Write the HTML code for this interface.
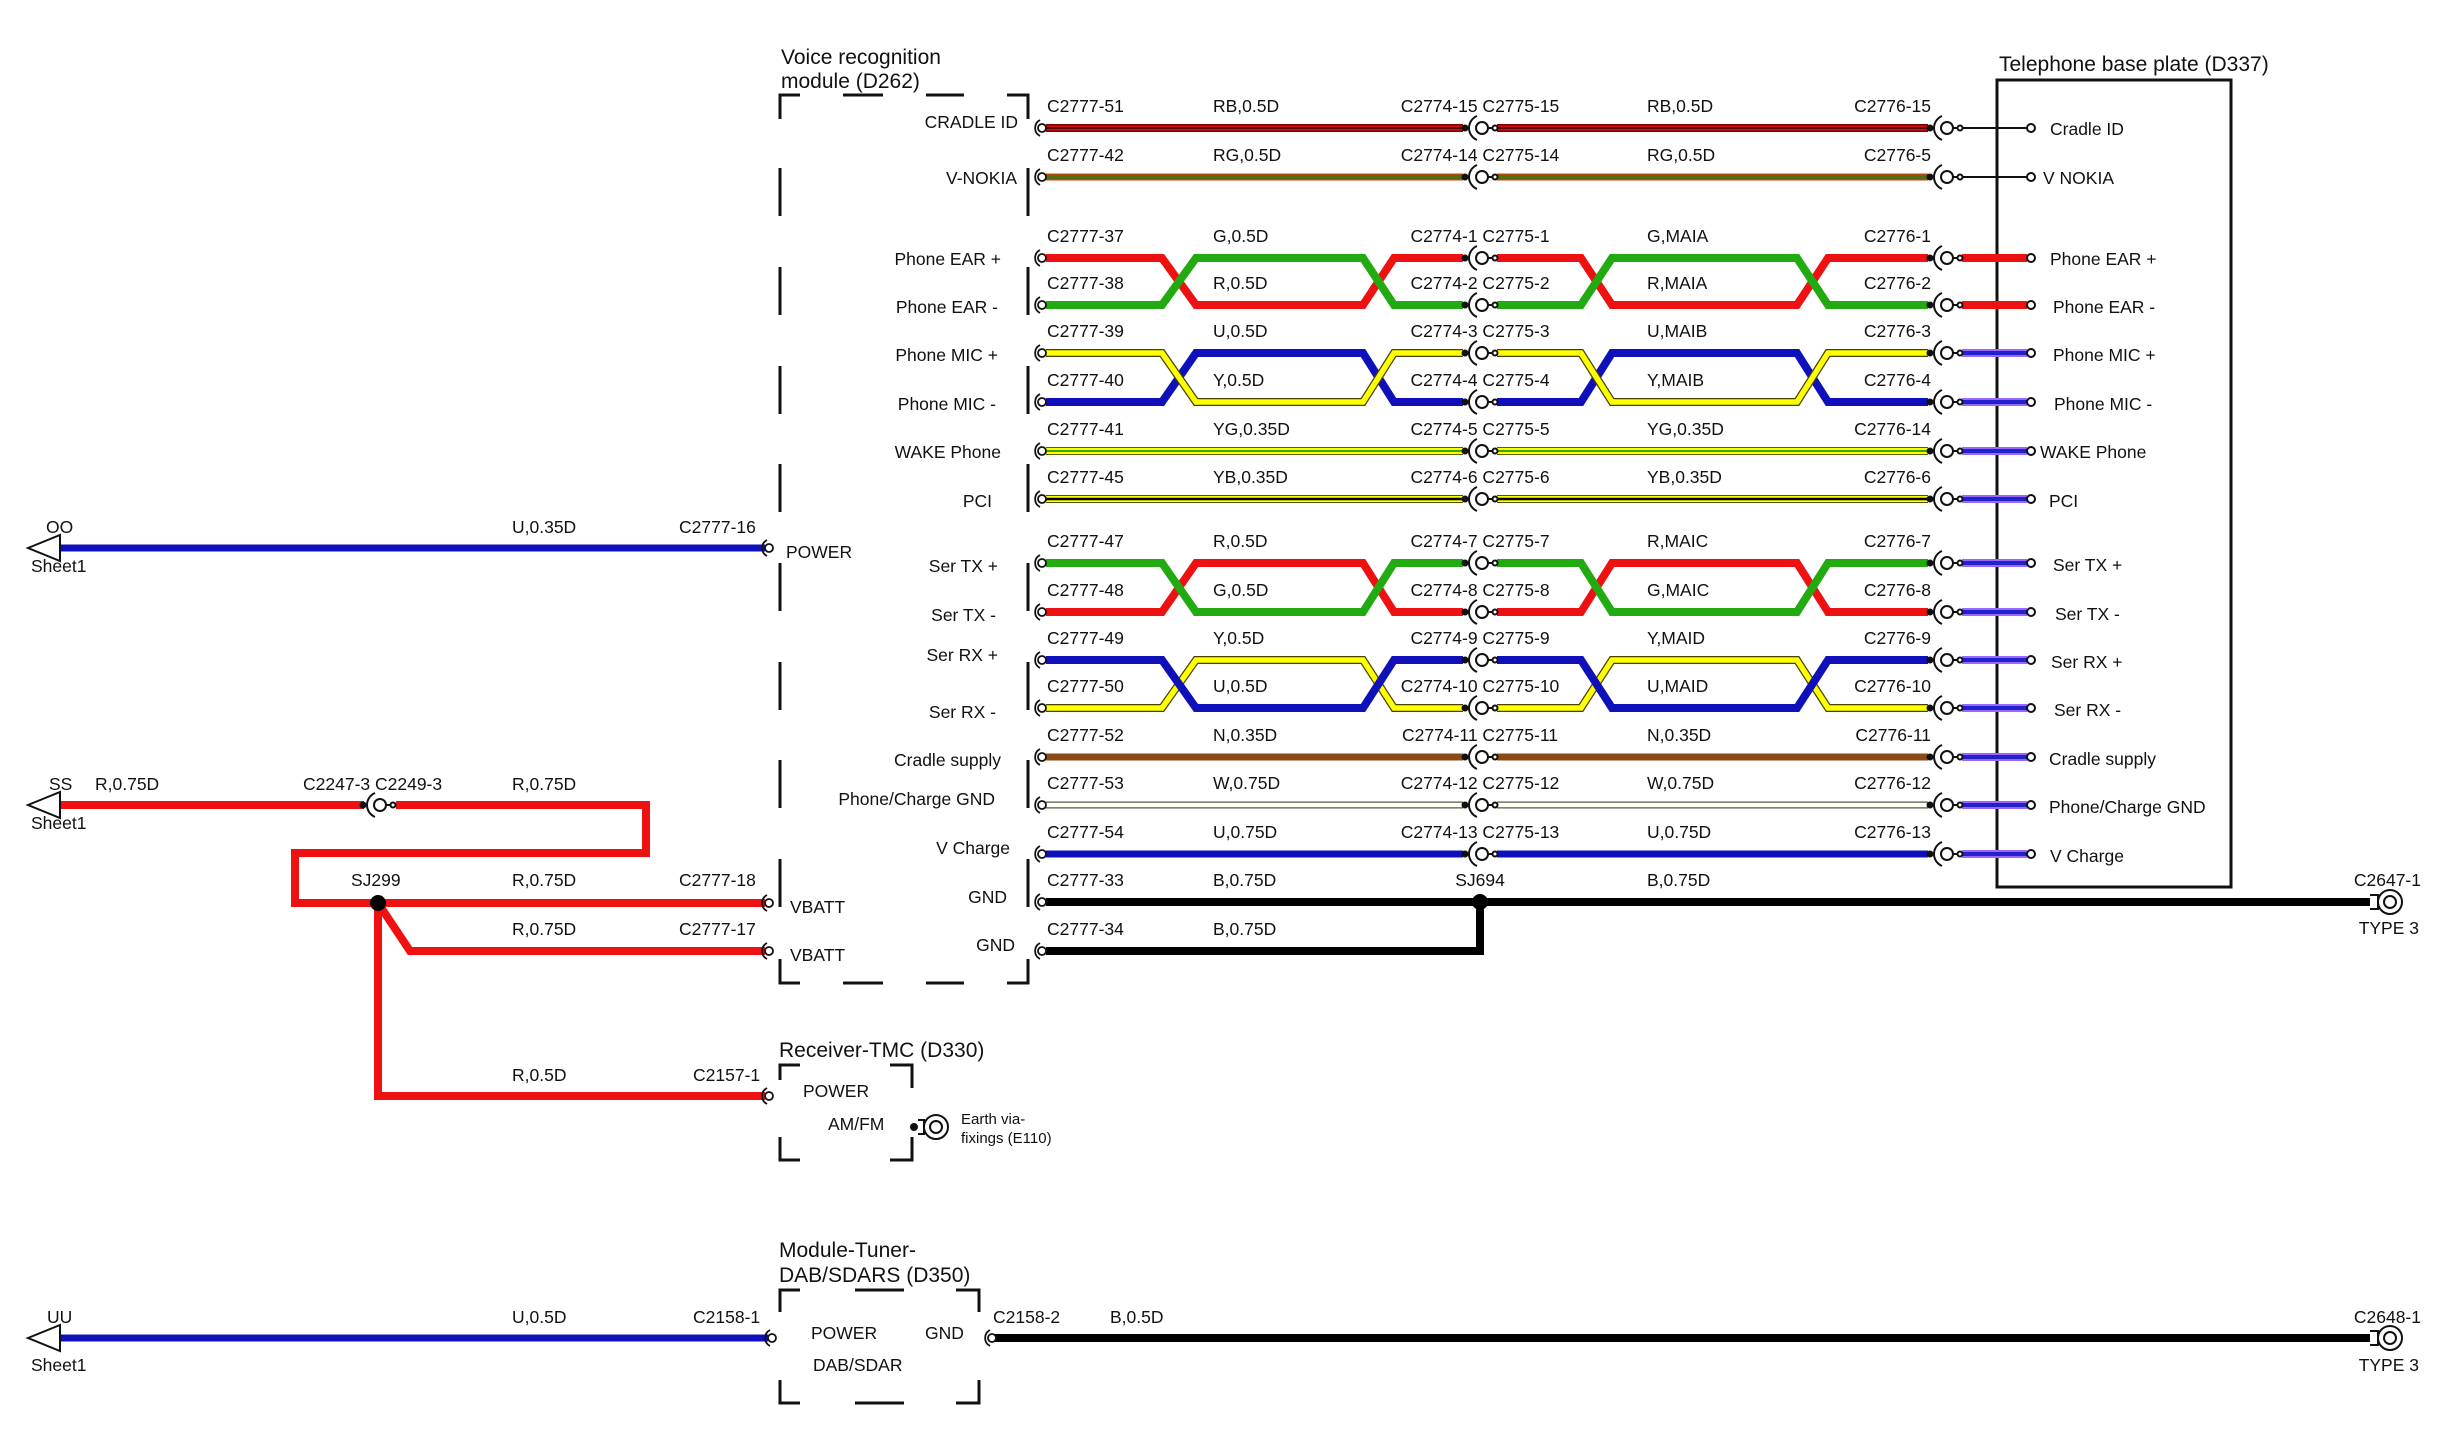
<!DOCTYPE html>
<html><head><meta charset="utf-8"><style>
html,body{margin:0;padding:0;background:#fff}
svg{display:block}
text{font-family:"Liberation Sans",Arial,sans-serif;font-size:17.5px;fill:#111}
.t{font-size:21px}
.s{font-size:15px}
.e{text-anchor:end}
.m{text-anchor:middle}
</style></head><body>
<svg width="2460" height="1444" viewBox="0 0 2460 1444" xmlns="http://www.w3.org/2000/svg">
<defs>
<g id="conn" fill="none" stroke="#111" stroke-width="2">
<circle cx="-15" cy="0" r="2.5" fill="#111"/>
<path d="M-3,-12 A13 13 0 0 0 -3,12"/>
<circle cx="2" cy="0" r="6"/>
<line x1="8" y1="0" x2="13" y2="0"/>
<circle cx="15" cy="0" r="2.5" fill="#fff"/>
</g>
<g id="pin" fill="none" stroke="#111" stroke-width="1.8">
<circle cx="2" cy="0" r="4" fill="#fff"/>
<path d="M0,-8 A9 9 0 0 0 0,8"/>
</g>
<g id="earth" fill="none" stroke="#111" stroke-width="2">
<circle cx="0" cy="0" r="3" fill="#111"/>
<path d="M4,-7 H10 V7 H4"/>
<circle cx="22" cy="0" r="12"/>
<circle cx="22" cy="0" r="6"/>
</g>
</defs>

<text x="781" y="64" class="t">Voice recognition</text>
<text x="781" y="88" class="t">module (D262)</text>
<g stroke="#111" stroke-width="3" fill="none">
<path d="M780,119 V95 H800 M843,95 H883 M926,95 H964 M1007,95 H1028 V119"/>
<path d="M780,959 V983 H800 M843,983 H883 M926,983 H964 M1007,983 H1028 V959"/>
<path d="M780,168V216M780,267V315M780,366V414M780,464V512M780,563V611M780,662V710M780,760V808M780,859V907"/>
<path d="M1028,168V216M1028,267V315M1028,366V414M1028,464V512M1028,563V611M1028,662V710M1028,760V808M1028,859V907"/>
</g>

<text x="1999" y="71" class="t">Telephone base plate (D337)</text>
<rect x="1997" y="80" width="234" height="807" fill="none" stroke="#111" stroke-width="3"/>

<g fill="none" stroke-linecap="butt">
<path d="M1046,128H1463M1497,128H1928" stroke="#7a0000" stroke-width="8"/>
<path d="M1046,128H1463M1497,128H1928" stroke="#d01010" stroke-width="5"/>
<path d="M1046,128H1463M1497,128H1928" stroke="#300" stroke-width="1.5"/>
<path d="M1046,177H1463M1497,177H1928" stroke="#d04010" stroke-width="7"/>
<path d="M1046,177H1463M1497,177H1928" stroke="#5a6a10" stroke-width="4.5"/>
<path d="M1046,451H1463M1497,451H1928" stroke="#556600" stroke-width="8"/>
<path d="M1046,451H1463M1497,451H1928" stroke="#ffff00" stroke-width="6"/>
<path d="M1046,451H1463M1497,451H1928" stroke="#33aa00" stroke-width="2"/>
<path d="M1046,499H1463M1497,499H1928" stroke="#555500" stroke-width="8"/>
<path d="M1046,499H1463M1497,499H1928" stroke="#ffff00" stroke-width="6"/>
<path d="M1046,499H1463M1497,499H1928" stroke="#000" stroke-width="2.5"/>
<path d="M1046,757H1463M1497,757H1928" stroke="#8a4a14" stroke-width="7"/>
<path d="M1046,805H1463M1497,805H1928" stroke="#555" stroke-width="7"/>
<path d="M1046,805H1463M1497,805H1928" stroke="#fffff2" stroke-width="4.5"/>
<path d="M1046,854H1463M1497,854H1928" stroke="#1010bb" stroke-width="7"/>
<path d="M1046,902H2370" stroke="#000" stroke-width="8"/>
<path d="M1046,951H1480V902" stroke="#000" stroke-width="8"/>
</g>
<circle cx="1480" cy="902" r="8" fill="#000"/>

<g fill="none" stroke-linejoin="miter">
<path d="M1046,258H1162L1196,305H1363L1394,258H1463M1497,258H1581L1612,305H1797L1828,258H1928" stroke="#ee1111" stroke-width="8"/>
<path d="M1046,305H1162L1196,258H1363L1394,305H1463M1497,305H1581L1612,258H1797L1828,305H1928" stroke="#22aa11" stroke-width="8"/>
<path d="M1046,402H1162L1196,353H1363L1394,402H1463M1497,402H1581L1612,353H1797L1828,402H1928" stroke="#1010bb" stroke-width="8"/>
<path d="M1046,353H1162L1196,402H1363L1394,353H1463M1497,353H1581L1612,402H1797L1828,353H1928" stroke="#444400" stroke-width="8"/>
<path d="M1046,353H1162L1196,402H1363L1394,353H1463M1497,353H1581L1612,402H1797L1828,353H1928" stroke="#ffff00" stroke-width="5.5"/>
<path d="M1046,612H1162L1196,563H1363L1394,612H1463M1497,612H1581L1612,563H1797L1828,612H1928" stroke="#ee1111" stroke-width="8"/>
<path d="M1046,563H1162L1196,612H1363L1394,563H1463M1497,563H1581L1612,612H1797L1828,563H1928" stroke="#22aa11" stroke-width="8"/>
<path d="M1046,708H1162L1196,660H1363L1394,708H1463M1497,708H1581L1612,660H1797L1828,708H1928" stroke="#444400" stroke-width="8"/>
<path d="M1046,708H1162L1196,660H1363L1394,708H1463M1497,708H1581L1612,660H1797L1828,708H1928" stroke="#ffff00" stroke-width="5.5"/>
<path d="M1046,660H1162L1196,708H1363L1394,660H1463M1497,660H1581L1612,708H1797L1828,660H1928" stroke="#1010bb" stroke-width="8"/>
</g>

<g fill="none">
<path d="M1962,128H2027M1962,177H2027" stroke="#111" stroke-width="2"/>
<path d="M1962,258H2027M1962,305H2027" stroke="#ee1111" stroke-width="8"/>
<path d="M1962,353H2027M1962,402H2027M1962,451H2027M1962,499H2027M1962,563H2027M1962,612H2027M1962,660H2027M1962,708H2027M1962,757H2027M1962,805H2027M1962,854H2027" stroke="#9966ff" stroke-width="8"/>
<path d="M1962,353H2027M1962,402H2027M1962,451H2027M1962,499H2027M1962,563H2027M1962,612H2027M1962,660H2027M1962,708H2027M1962,757H2027M1962,805H2027M1962,854H2027" stroke="#2222cc" stroke-width="4"/>
</g>
<g fill="#fff" stroke="#111" stroke-width="2">
<circle cx="2031" cy="128" r="4"/><circle cx="2031" cy="177" r="4"/><circle cx="2031" cy="258" r="4"/><circle cx="2031" cy="305" r="4"/>
<circle cx="2031" cy="353" r="4"/><circle cx="2031" cy="402" r="4"/><circle cx="2031" cy="451" r="4"/><circle cx="2031" cy="499" r="4"/>
<circle cx="2031" cy="563" r="4"/><circle cx="2031" cy="612" r="4"/><circle cx="2031" cy="660" r="4"/><circle cx="2031" cy="708" r="4"/>
<circle cx="2031" cy="757" r="4"/><circle cx="2031" cy="805" r="4"/><circle cx="2031" cy="854" r="4"/>
</g>

<g>
<use href="#conn" x="1480" y="128"/><use href="#conn" x="1480" y="177"/><use href="#conn" x="1480" y="258"/><use href="#conn" x="1480" y="305"/>
<use href="#conn" x="1480" y="353"/><use href="#conn" x="1480" y="402"/><use href="#conn" x="1480" y="451"/><use href="#conn" x="1480" y="499"/>
<use href="#conn" x="1480" y="563"/><use href="#conn" x="1480" y="612"/><use href="#conn" x="1480" y="660"/><use href="#conn" x="1480" y="708"/>
<use href="#conn" x="1480" y="757"/><use href="#conn" x="1480" y="805"/><use href="#conn" x="1480" y="854"/>
<use href="#conn" x="1945" y="128"/><use href="#conn" x="1945" y="177"/><use href="#conn" x="1945" y="258"/><use href="#conn" x="1945" y="305"/>
<use href="#conn" x="1945" y="353"/><use href="#conn" x="1945" y="402"/><use href="#conn" x="1945" y="451"/><use href="#conn" x="1945" y="499"/>
<use href="#conn" x="1945" y="563"/><use href="#conn" x="1945" y="612"/><use href="#conn" x="1945" y="660"/><use href="#conn" x="1945" y="708"/>
<use href="#conn" x="1945" y="757"/><use href="#conn" x="1945" y="805"/><use href="#conn" x="1945" y="854"/>
<use href="#pin" x="1040" y="128"/><use href="#pin" x="1040" y="177"/><use href="#pin" x="1040" y="258"/><use href="#pin" x="1040" y="305"/>
<use href="#pin" x="1040" y="353"/><use href="#pin" x="1040" y="402"/><use href="#pin" x="1040" y="451"/><use href="#pin" x="1040" y="499"/>
<use href="#pin" x="1040" y="563"/><use href="#pin" x="1040" y="612"/><use href="#pin" x="1040" y="660"/><use href="#pin" x="1040" y="708"/>
<use href="#pin" x="1040" y="757"/><use href="#pin" x="1040" y="805"/><use href="#pin" x="1040" y="854"/><use href="#pin" x="1040" y="902"/>
<use href="#pin" x="1040" y="951"/>
</g>

<g>
<text x="1047" y="112">C2777-51</text><text x="1213" y="112">RB,0.5D</text><text x="1480" y="112" class="m">C2774-15 C2775-15</text><text x="1647" y="112">RB,0.5D</text><text x="1931" y="112" class="e">C2776-15</text>
<text x="1047" y="161">C2777-42</text><text x="1213" y="161">RG,0.5D</text><text x="1480" y="161" class="m">C2774-14 C2775-14</text><text x="1647" y="161">RG,0.5D</text><text x="1931" y="161" class="e">C2776-5</text>
<text x="1047" y="242">C2777-37</text><text x="1213" y="242">G,0.5D</text><text x="1480" y="242" class="m">C2774-1 C2775-1</text><text x="1647" y="242">G,MAIA</text><text x="1931" y="242" class="e">C2776-1</text>
<text x="1047" y="289">C2777-38</text><text x="1213" y="289">R,0.5D</text><text x="1480" y="289" class="m">C2774-2 C2775-2</text><text x="1647" y="289">R,MAIA</text><text x="1931" y="289" class="e">C2776-2</text>
<text x="1047" y="337">C2777-39</text><text x="1213" y="337">U,0.5D</text><text x="1480" y="337" class="m">C2774-3 C2775-3</text><text x="1647" y="337">U,MAIB</text><text x="1931" y="337" class="e">C2776-3</text>
<text x="1047" y="386">C2777-40</text><text x="1213" y="386">Y,0.5D</text><text x="1480" y="386" class="m">C2774-4 C2775-4</text><text x="1647" y="386">Y,MAIB</text><text x="1931" y="386" class="e">C2776-4</text>
<text x="1047" y="435">C2777-41</text><text x="1213" y="435">YG,0.35D</text><text x="1480" y="435" class="m">C2774-5 C2775-5</text><text x="1647" y="435">YG,0.35D</text><text x="1931" y="435" class="e">C2776-14</text>
<text x="1047" y="483">C2777-45</text><text x="1213" y="483">YB,0.35D</text><text x="1480" y="483" class="m">C2774-6 C2775-6</text><text x="1647" y="483">YB,0.35D</text><text x="1931" y="483" class="e">C2776-6</text>
<text x="1047" y="547">C2777-47</text><text x="1213" y="547">R,0.5D</text><text x="1480" y="547" class="m">C2774-7 C2775-7</text><text x="1647" y="547">R,MAIC</text><text x="1931" y="547" class="e">C2776-7</text>
<text x="1047" y="596">C2777-48</text><text x="1213" y="596">G,0.5D</text><text x="1480" y="596" class="m">C2774-8 C2775-8</text><text x="1647" y="596">G,MAIC</text><text x="1931" y="596" class="e">C2776-8</text>
<text x="1047" y="644">C2777-49</text><text x="1213" y="644">Y,0.5D</text><text x="1480" y="644" class="m">C2774-9 C2775-9</text><text x="1647" y="644">Y,MAID</text><text x="1931" y="644" class="e">C2776-9</text>
<text x="1047" y="692">C2777-50</text><text x="1213" y="692">U,0.5D</text><text x="1480" y="692" class="m">C2774-10 C2775-10</text><text x="1647" y="692">U,MAID</text><text x="1931" y="692" class="e">C2776-10</text>
<text x="1047" y="741">C2777-52</text><text x="1213" y="741">N,0.35D</text><text x="1480" y="741" class="m">C2774-11 C2775-11</text><text x="1647" y="741">N,0.35D</text><text x="1931" y="741" class="e">C2776-11</text>
<text x="1047" y="789">C2777-53</text><text x="1213" y="789">W,0.75D</text><text x="1480" y="789" class="m">C2774-12 C2775-12</text><text x="1647" y="789">W,0.75D</text><text x="1931" y="789" class="e">C2776-12</text>
<text x="1047" y="838">C2777-54</text><text x="1213" y="838">U,0.75D</text><text x="1480" y="838" class="m">C2774-13 C2775-13</text><text x="1647" y="838">U,0.75D</text><text x="1931" y="838" class="e">C2776-13</text>
<text x="1047" y="886">C2777-33</text><text x="1213" y="886">B,0.75D</text><text x="1480" y="886" class="m">SJ694</text><text x="1647" y="886">B,0.75D</text>
<text x="1047" y="935">C2777-34</text><text x="1213" y="935">B,0.75D</text>
</g>

<g>
<text x="1018" y="128" class="e">CRADLE ID</text>
<text x="1017" y="184" class="e">V-NOKIA</text>
<text x="1001" y="265" class="e">Phone EAR +</text>
<text x="998" y="313" class="e">Phone EAR -</text>
<text x="998" y="361" class="e">Phone MIC +</text>
<text x="996" y="410" class="e">Phone MIC -</text>
<text x="1001" y="458" class="e">WAKE Phone</text>
<text x="992" y="507" class="e">PCI</text>
<text x="998" y="572" class="e">Ser TX +</text>
<text x="996" y="621" class="e">Ser TX -</text>
<text x="998" y="661" class="e">Ser RX +</text>
<text x="996" y="718" class="e">Ser RX -</text>
<text x="1001" y="766" class="e">Cradle supply</text>
<text x="995" y="805" class="e">Phone/Charge GND</text>
<text x="1010" y="854" class="e">V Charge</text>
<text x="1007" y="903" class="e">GND</text>
<text x="1015" y="951" class="e">GND</text>
</g>

<g>
<text x="2050" y="135">Cradle ID</text>
<text x="2043" y="184">V NOKIA</text>
<text x="2050" y="265">Phone EAR +</text>
<text x="2053" y="313">Phone EAR -</text>
<text x="2053" y="361">Phone MIC +</text>
<text x="2054" y="410">Phone MIC -</text>
<text x="2040" y="458">WAKE Phone</text>
<text x="2049" y="507">PCI</text>
<text x="2053" y="571">Ser TX +</text>
<text x="2055" y="620">Ser TX -</text>
<text x="2051" y="668">Ser RX +</text>
<text x="2054" y="716">Ser RX -</text>
<text x="2049" y="765">Cradle supply</text>
<text x="2049" y="813">Phone/Charge GND</text>
<text x="2050" y="862">V Charge</text>
</g>

<g fill="none" stroke="#111" stroke-width="2">
<path d="M2370,895H2378V909H2370"/>
<circle cx="2390" cy="902" r="12"/><circle cx="2390" cy="902" r="6"/>
<path d="M2370,1331H2378V1345H2370"/>
<circle cx="2390" cy="1338" r="12"/><circle cx="2390" cy="1338" r="6"/>
</g>
<text x="2421" y="886" class="e">C2647-1</text>
<text x="2419" y="934" class="e">TYPE 3</text>

<path d="M60,548H765" stroke="#1010bb" stroke-width="7" fill="none"/>
<polygon points="28,548 60,535 60,561" fill="#fff" stroke="#111" stroke-width="2"/>
<use href="#pin" x="767" y="548"/>
<text x="46" y="533">OO</text>
<text x="31" y="572">Sheet1</text>
<text x="512" y="533">U,0.35D</text>
<text x="679" y="533">C2777-16</text>
<text x="786" y="558">POWER</text>

<g fill="none" stroke="#ee1111" stroke-width="8" stroke-linejoin="miter">
<path d="M60,805H364"/>
<path d="M396,805H646V853H295V903H765"/>
<path d="M378,903L410,951H765"/>
<path d="M378,903V1096H765"/>
</g>
<polygon points="28,805 60,792 60,818" fill="#fff" stroke="#111" stroke-width="2"/>
<use href="#conn" x="378" y="805"/>
<circle cx="378" cy="903" r="8" fill="#000"/>
<use href="#pin" x="767" y="903"/>
<use href="#pin" x="767" y="951"/>
<use href="#pin" x="767" y="1096"/>
<text x="49" y="790">SS</text>
<text x="95" y="790">R,0.75D</text>
<text x="303" y="790">C2247-3 C2249-3</text>
<text x="512" y="790">R,0.75D</text>
<text x="31" y="829">Sheet1</text>
<text x="351" y="886">SJ299</text>
<text x="512" y="886">R,0.75D</text>
<text x="679" y="886">C2777-18</text>
<text x="790" y="913">VBATT</text>
<text x="512" y="935">R,0.75D</text>
<text x="679" y="935">C2777-17</text>
<text x="790" y="961">VBATT</text>

<text x="779" y="1057" class="t">Receiver-TMC (D330)</text>
<g stroke="#111" stroke-width="3" fill="none">
<path d="M780,1080V1065H800M890,1065H912V1088M780,1137V1160H800M890,1160H912V1137"/>
</g>
<text x="512" y="1081">R,0.5D</text>
<text x="693" y="1081">C2157-1</text>
<text x="803" y="1097">POWER</text>
<text x="828" y="1130">AM/FM</text>
<use href="#earth" x="914" y="1127"/>
<text x="961" y="1124" class="s">Earth via-</text>
<text x="961" y="1143" class="s">fixings (E110)</text>

<text x="779" y="1257" class="t">Module-Tuner-</text>
<text x="779" y="1282" class="t">DAB/SDARS (D350)</text>
<g stroke="#111" stroke-width="3" fill="none">
<path d="M780,1312V1290H800M855,1290H904M956,1290H979V1312M780,1380V1403H800M855,1403H904M956,1403H979V1380"/>
</g>
<path d="M60,1338H768" stroke="#1010bb" stroke-width="7" fill="none"/>
<polygon points="28,1338 60,1325 60,1351" fill="#fff" stroke="#111" stroke-width="2"/>
<use href="#pin" x="770" y="1338"/>
<path d="M994,1338H2370" stroke="#000" stroke-width="8" fill="none"/>
<use href="#pin" x="990" y="1338"/>
<text x="47" y="1323">UU</text>
<text x="31" y="1371">Sheet1</text>
<text x="512" y="1323">U,0.5D</text>
<text x="693" y="1323">C2158-1</text>
<text x="811" y="1339">POWER</text>
<text x="925" y="1339">GND</text>
<text x="813" y="1371">DAB/SDAR</text>
<text x="993" y="1323">C2158-2</text>
<text x="1110" y="1323">B,0.5D</text>
<text x="2421" y="1323" class="e">C2648-1</text>
<text x="2419" y="1371" class="e">TYPE 3</text>
</svg>
</body></html>
